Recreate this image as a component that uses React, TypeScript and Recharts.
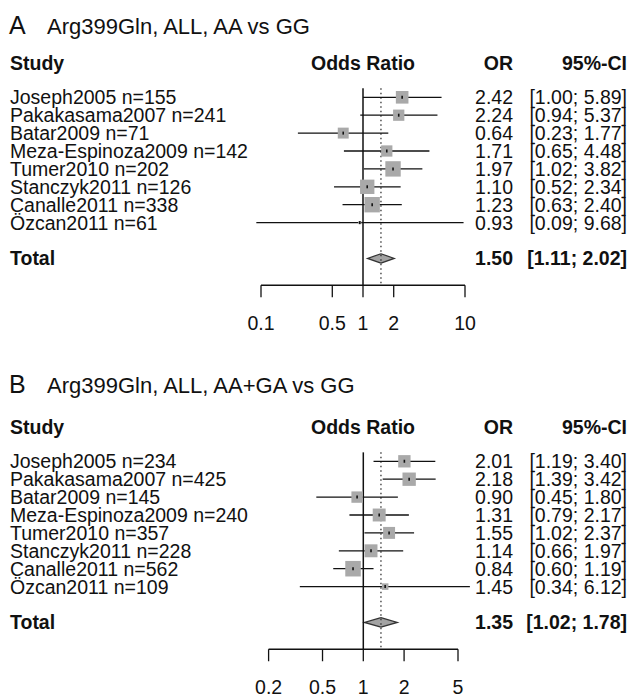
import React from 'react'
import {
  ComposedChart,
  Scatter,
  XAxis,
  YAxis,
  ZAxis,
  ReferenceLine,
  ReferenceArea,
} from 'recharts'

const FONT = '"Liberation Sans", Arial, Helvetica, sans-serif'

// A: AA vs GG
const studiesA = [
  'Joseph2005 n=155',
  'Pakakasama2007 n=241',
  'Batar2009 n=71',
  'Meza-Espinoza2009 n=142',
  'Tumer2010 n=202',
  'Stanczyk2011 n=126',
  'Canalle2011 n=338',
  'Özcan2011 n=61',
]
const orA = [2.42, 2.24, 0.64, 1.71, 1.97, 1.1, 1.23, 0.93]
const lowA = [1.0, 0.94, 0.23, 0.65, 1.02, 0.52, 0.63, 0.09]
const highA = [5.89, 5.37, 1.77, 4.48, 3.82, 2.34, 2.4, 9.68]
const weightA = [13, 10.4, 9.8, 10.4, 19.4, 16.9, 19.4, 0.8]
const totalA = [1.5, 1.11, 2.02]
const ticksA = [0.1, 0.5, 1, 2, 10]

// B: AA+GA vs GG
const studiesB = [
  'Joseph2005 n=234',
  'Pakakasama2007 n=425',
  'Batar2009 n=145',
  'Meza-Espinoza2009 n=240',
  'Tumer2010 n=357',
  'Stanczyk2011 n=228',
  'Canalle2011 n=562',
  'Özcan2011 n=109',
]
const orB = [2.01, 2.18, 0.9, 1.31, 1.55, 1.14, 0.84, 1.45]
const lowB = [1.19, 1.39, 0.45, 0.79, 1.02, 0.66, 0.6, 0.34]
const highB = [3.4, 3.42, 1.8, 2.17, 2.37, 1.97, 1.19, 6.12]
const weightB = [12.5, 14.6, 10.6, 13.7, 11.7, 13.7, 19.8, 3.5]
const totalB = [1.35, 1.02, 1.78]
const ticksB = [0.2, 0.5, 1, 2, 5]

const TOTAL_ROW = 10
const HEADER_ROW = -0.92

interface PanelProps {
  letter: string
  title: string
  titleRow: number
  studies: string[]
  or: number[]
  low: number[]
  high: number[]
  weight: number[]
  total: number[]
  ticks: number[]
  plotLeft: number
  plotRight: number
}

const fmt = (v: number) => v.toFixed(2)

function Square(props: any) {
  const { cx, cy, width } = props
  if (cx == null || cy == null) return null
  const s = width
  return (
    <g>
      <rect x={cx - s / 2} y={cy - s / 2} width={s} height={s} fill="#a9a9a9" />
      <line x1={cx} x2={cx} y1={cy - 1.5} y2={cy + 1.5} stroke="#111" strokeWidth={1.6} />
    </g>
  )
}

function Panel(p: PanelProps) {
  const rows = p.studies.map((name, i) => ({ name, x: p.or[i], y: i + 1, w: p.weight[i] }))
  const yTicks = [p.titleRow, HEADER_ROW, ...rows.map((r) => r.y), TOTAL_ROW]

  const rowTick = (t: any) => {
    const { y, payload } = t
    const v = payload.value
    const base = y + 7
    if (v === p.titleRow) {
      return (
        <g>
          <text x={9} y={base + 1.8} fontSize={25} fontFamily={FONT} fill="#111">{p.letter}</text>
          <text x={47} y={base + 1.8} fontSize={22} fontFamily={FONT} fill="#111">{p.title}</text>
        </g>
      )
    }
    if (v === HEADER_ROW) {
      return (
        <g fontSize={19.5} fontFamily={FONT} fontWeight="bold" fill="#111">
          <text x={10} y={base}>Study</text>
          <text x={363} y={base} textAnchor="middle">Odds Ratio</text>
          <text x={513} y={base} textAnchor="end">OR</text>
          <text x={627} y={base} textAnchor="end">95%-CI</text>
        </g>
      )
    }
    if (v === TOTAL_ROW) {
      return (
        <g fontSize={19.5} fontFamily={FONT} fontWeight="bold" fill="#111">
          <text x={10} y={base}>Total</text>
          <text x={513} y={base} textAnchor="end">{fmt(p.total[0])}</text>
          <text x={627} y={base} textAnchor="end">{`[${fmt(p.total[1])}; ${fmt(p.total[2])}]`}</text>
        </g>
      )
    }
    const i = v - 1
    return (
      <g fontSize={19.5} fontFamily={FONT} fill="#111">
        <text x={10} y={base}>{p.studies[i]}</text>
        <text x={513} y={base} textAnchor="end">{fmt(p.or[i])}</text>
        <text x={627} y={base} textAnchor="end">{`[${fmt(p.low[i])}; ${fmt(p.high[i])}]`}</text>
      </g>
    )
  }

  const xTick = (t: any) => (
    <text x={t.x} y={t.y + 32.8} textAnchor="middle" fontSize={19.5} fontFamily={FONT} fill="#111">
      {t.payload.value}
    </text>
  )

  const yWidth = 60
  const dMin = p.ticks[0]
  const dMax = p.ticks[p.ticks.length - 1]
  const [tOr, tLow, tHigh] = p.total

  return (
    <ComposedChart
      width={635}
      height={364}
      margin={{ top: 7.8, right: 635 - p.plotRight, bottom: 38.75, left: p.plotLeft - yWidth }}
    >
      <XAxis
        dataKey="x"
        type="number"
        scale="log"
        domain={[dMin, dMax]}
        ticks={p.ticks}
        allowDataOverflow
        interval={0}
        height={40}
        tickSize={12}
        tickMargin={0}
        axisLine={{ stroke: '#111', strokeWidth: 1.3 }}
        tickLine={{ stroke: '#111', strokeWidth: 1.3 }}
        tick={xTick}
      />
      <YAxis
        dataKey="y"
        type="number"
        domain={[-4, 11.5]}
        reversed
        ticks={yTicks}
        interval={0}
        width={yWidth}
        axisLine={false}
        tickLine={false}
        tick={rowTick}
      />
      <ZAxis dataKey="w" type="number" domain={[0, 20]} range={[0, 191.6]} />
      <ReferenceLine
        segment={[{ x: tOr, y: 0.5 }, { x: tOr, y: 11.4 }]}
        stroke="#222"
        strokeWidth={1.2}
        strokeDasharray="1.5 3"
        ifOverflow="visible"
      />
      {rows.map((r, i) => (
        <ReferenceLine
          key={r.name}
          segment={[{ x: p.low[i], y: r.y }, { x: p.high[i], y: r.y }]}
          stroke="#111"
          strokeWidth={1.3}
          ifOverflow="visible"
        />
      ))}
      <Scatter data={rows} shape={Square} isAnimationActive={false} />
      <ReferenceLine
        segment={[{ x: 1, y: 0.5 }, { x: 1, y: 11.5 }]}
        stroke="#111"
        strokeWidth={1.5}
        ifOverflow="visible"
      />
      <ReferenceArea
        x1={tLow}
        x2={tOr}
        y1={TOTAL_ROW - 0.26}
        y2={TOTAL_ROW + 0.26}
        ifOverflow="visible"
        shape={(s: any) => (
          <g>
            <polygon
              points={`${s.x},${s.y + s.height / 2} ${s.x + s.width},${s.y} ${s.x + s.width},${s.y + s.height}`}
              fill="#a3a3a3"
            />
            <polyline
              points={`${s.x + s.width},${s.y} ${s.x},${s.y + s.height / 2} ${s.x + s.width},${s.y + s.height}`}
              fill="none"
              stroke="#333"
              strokeWidth={1.3}
            />
          </g>
        )}
      />
      <ReferenceArea
        x1={tOr}
        x2={tHigh}
        y1={TOTAL_ROW - 0.26}
        y2={TOTAL_ROW + 0.26}
        ifOverflow="visible"
        shape={(s: any) => (
          <g>
            <polygon
              points={`${s.x},${s.y} ${s.x + s.width},${s.y + s.height / 2} ${s.x},${s.y + s.height}`}
              fill="#a3a3a3"
            />
            <polyline
              points={`${s.x},${s.y} ${s.x + s.width},${s.y + s.height / 2} ${s.x},${s.y + s.height}`}
              fill="none"
              stroke="#333"
              strokeWidth={1.3}
            />
          </g>
        )}
      />
    </ComposedChart>
  )
}

export default function App() {
  return (
    <div style={{ width: 635, background: '#fff' }}>
      <style>{'body{margin:0;background:#fff}'}</style>
      <Panel
        letter="A"
        title="Arg399Gln, ALL, AA vs GG"
        titleRow={-3.04}
        studies={studiesA}
        or={orA}
        low={lowA}
        high={highA}
        weight={weightA}
        total={totalA}
        ticks={ticksA}
        plotLeft={261}
        plotRight={465}
      />
      <Panel
        letter="B"
        title="Arg399Gln, ALL, AA+GA vs GG"
        titleRow={-3.29}
        studies={studiesB}
        or={orB}
        low={lowB}
        high={highB}
        weight={weightB}
        total={totalB}
        ticks={ticksB}
        plotLeft={268.6}
        plotRight={458}
      />
    </div>
  )
}
